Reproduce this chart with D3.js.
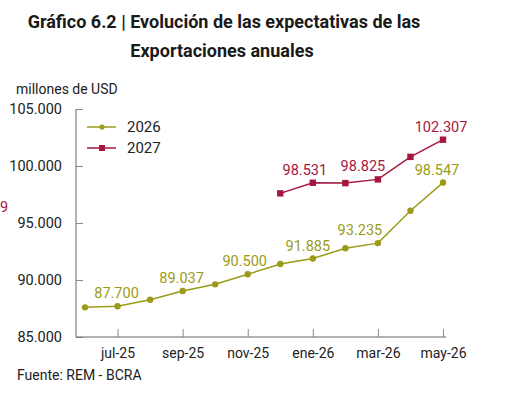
<!DOCTYPE html>
<html>
<head>
    <script src="https://cdn.jsdelivr.net/npm/d3@7"></script>
    <style>
        body { margin: 0px; background: white; }
        text { font-family: Roboto, "Noto Sans", sans-serif; }
    </style>
</head>
<body>
<svg id="chart" width="519" height="409"></svg>
<script>
// months on the x axis
var months = ["jun-25","jul-25","ago-25","sep-25","oct-25","nov-25","dic-25","ene-26","feb-26","mar-26","abr-26","may-26"];
var tickMonths = ["jul-25","sep-25","nov-25","ene-26","mar-26","may-26"];
var yTicks = [85000, 90000, 95000, 100000, 105000];

// expectations for each year (null = no survey yet)
var exp2026 = [87600, 87700, 88270, 89037, 89620, 90500, 91400, 91885, 92780, 93235, 96080, 98547];
var exp2027 = [null, null, null, null, null, null, 97600, 98531, 98500, 98825, 100800, 102307];

// which points carry a label
var labels2026 = ["jul-25","sep-25","nov-25","ene-26","mar-26","may-26"];
var labels2027 = ["ene-26","mar-26","may-26"];

var olive = "#9b9b17";
var wine = "#a5173f";

// small horizontal nudges of the value labels, as in the original
var nudge2026 = {"jul-25": -1, "sep-25": -1, "nov-25": -3, "ene-26": -5, "mar-26": -18, "may-26": -6};
var nudge2027 = {"ene-26": -8, "mar-26": -15, "may-26": -2};

var svg = d3.select("#chart");
var fmt = function(v){ return d3.format(",")(v).replace(/,/g, "."); };

var x = d3.scalePoint().domain(months).range([85, 443]);
var y = d3.scaleLinear().domain([85000, 105000]).range([337, 109]);

// title
svg.append("text").attr("x", 224).attr("y", 28).attr("text-anchor", "middle")
    .style("font-size", "18px").style("font-weight", "bold").attr("fill", "#1a1a1a")
    .text("Gráfico 6.2 | Evolución de las expectativas de las");
svg.append("text").attr("x", 222).attr("y", 57).attr("text-anchor", "middle")
    .style("font-size", "18px").style("font-weight", "bold").attr("fill", "#1a1a1a")
    .text("Exportaciones anuales");

svg.append("text").attr("x", 16).attr("y", 94).style("font-size", "14px").attr("fill", "#222")
    .text("millones de USD");

// y axis
var yAxis = svg.append("g").attr("transform", "translate(76,0)")
    .call(d3.axisLeft(y).tickValues(yTicks).tickSize(-7).tickPadding(14).tickFormat(fmt));
yAxis.select(".domain").attr("stroke", "#666").attr("d", "M0,109V337");
yAxis.selectAll(".tick line").attr("stroke", "#888");
yAxis.selectAll(".tick text").style("font-size", "14.5px").attr("fill", "#222")
    .style("font-family", "Roboto, sans-serif");

// x axis
var xAxis = svg.append("g").attr("transform", "translate(0,337)")
    .call(d3.axisBottom(x).tickValues(tickMonths).tickSize(-8).tickPadding(11));
xAxis.select(".domain").attr("stroke", "#666").attr("d", "M76,0H446");
xAxis.selectAll(".tick line").attr("stroke", "#888");
xAxis.selectAll(".tick text").style("font-size", "14px").attr("fill", "#222")
    .style("font-family", "Roboto, sans-serif");

function drawSeries(vals, color, shape, labelled, nudge) {
    var pts = months.map(function(m, i){ return {m: m, v: vals[i]}; })
        .filter(function(d){ return d.v != null; });
    var line = d3.line().x(function(d){ return x(d.m); }).y(function(d){ return y(d.v); });
    svg.append("path").datum(pts).attr("d", line).attr("fill", "none")
        .attr("stroke", color).attr("stroke-width", 1.5);
    if (shape == "circle") {
        svg.selectAll(null).data(pts).enter().append("circle")
            .attr("cx", function(d){ return x(d.m); }).attr("cy", function(d){ return y(d.v); })
            .attr("r", 3.2).attr("fill", color);
    } else {
        svg.selectAll(null).data(pts).enter().append("rect")
            .attr("x", function(d){ return x(d.m) - 3.2; }).attr("y", function(d){ return y(d.v) - 3.2; })
            .attr("width", 6.4).attr("height", 6.4).attr("fill", color);
    }
    svg.selectAll(null).data(pts.filter(function(d){ return labelled.indexOf(d.m) >= 0; }))
        .enter().append("text")
        .attr("x", function(d){ return x(d.m) + (nudge[d.m] || 0); })
        .attr("y", function(d){ return y(d.v) - 8; })
        .attr("text-anchor", "middle").style("font-size", "14.5px").attr("fill", color)
        .text(function(d){ return fmt(d.v); });
}

drawSeries(exp2026, olive, "circle", labels2026, nudge2026);
drawSeries(exp2027, wine, "rect", labels2027, nudge2027);

// stray label fragment at the left edge
svg.append("text").attr("x", 0).attr("y", 212)
    .style("font-size", "14.5px").attr("fill", wine).text("9");

// legend
var legend = [{name: "2026", color: olive, shape: "circle", y: 127}, {name: "2027", color: wine, shape: "rect", y: 148}];
legend.forEach(function(l){
    svg.append("line").attr("x1", 87).attr("x2", 116).attr("y1", l.y).attr("y2", l.y)
        .attr("stroke", l.color).attr("stroke-width", 1.5);
    if (l.shape == "circle") {
        svg.append("circle").attr("cx", 102).attr("cy", l.y).attr("r", 2.6).attr("fill", l.color);
    } else {
        svg.append("rect").attr("x", 99).attr("y", l.y - 3).attr("width", 6).attr("height", 6).attr("fill", l.color);
    }
    svg.append("text").attr("x", 127).attr("y", l.y + 5).style("font-size", "15px").attr("fill", "#222").text(l.name);
});

svg.append("text").attr("x", 17).attr("y", 380).style("font-size", "14px").attr("fill", "#222")
    .text("Fuente: REM - BCRA");
</script>
</body>
</html>
